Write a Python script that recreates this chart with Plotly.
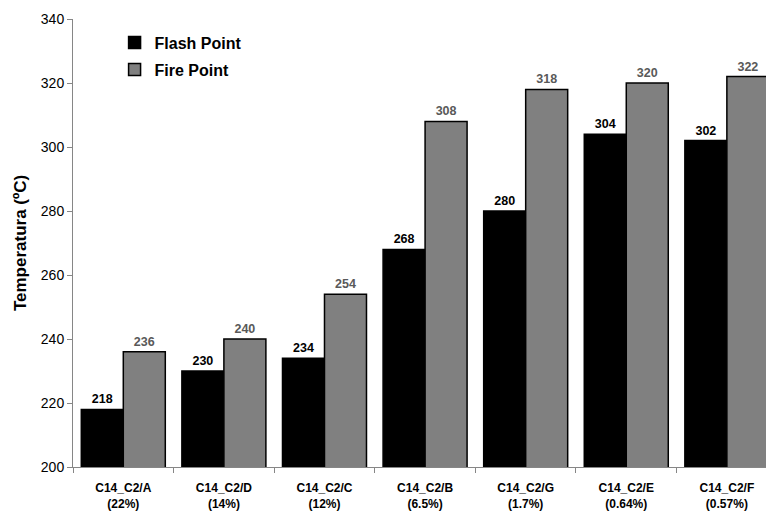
import plotly.graph_objects as go

# Samples and their share (shown under each sample name)
samples = ["C14_C2/A", "C14_C2/D", "C14_C2/C", "C14_C2/B", "C14_C2/G", "C14_C2/E", "C14_C2/F"]
shares = ["(22%)", "(14%)", "(12%)", "(6.5%)", "(1.7%)", "(0.64%)", "(0.57%)"]

# Temperatures in degrees Celsius
flash_point = [218, 230, 234, 268, 280, 304, 302]
fire_point = [236, 240, 254, 308, 318, 320, 322]

y_ticks = [200, 220, 240, 260, 280, 300, 320, 340]

FONT = "Liberation Sans, Arial, sans-serif"

tick_text = [f"<b>{s}</b><br><b>{p}</b>" for s, p in zip(samples, shares)]

fig = go.Figure()
fig.add_trace(go.Bar(
    name="<b>Flash Point</b>", x=samples, y=flash_point, legendgroup="flash",
    marker=dict(color="#000000", line=dict(color="#000000", width=1.5)),
    text=[f"<b>{v}</b>" for v in flash_point], textposition="outside",
    textfont=dict(family=FONT, size=12.5, color="#000000"),
    cliponaxis=False,
))
fig.add_trace(go.Bar(
    name="<b>Fire Point</b>", x=samples, y=fire_point, legendgroup="fire",
    marker=dict(color="#808080", line=dict(color="#000000", width=1.5)),
    text=[f"<b>{v}</b>" for v in fire_point], textposition="outside",
    textfont=dict(family=FONT, size=12.5, color="#595959"),
    cliponaxis=False,
))

fig.update_layout(
    width=766, height=511,
    margin=dict(l=73, r=0, t=19, b=44),
    paper_bgcolor="white", plot_bgcolor="white",
    barmode="group", bargap=0.165, bargroupgap=0,
    font=dict(family=FONT, size=13, color="#000000"),
    showlegend=True,
    legend=dict(
        x=0.06, y=0.985, xanchor="left", yanchor="top",
        bgcolor="rgba(0,0,0,0)", font=dict(family=FONT, size=16, color="#000000"),
        itemwidth=30, tracegroupgap=3,
    ),
)

fig.update_xaxes(
    type="category", range=[-0.5, 6.389],
    tickmode="array", tickvals=samples, ticktext=tick_text,
    tickson="boundaries", ticks="outside", ticklen=5, tickcolor="#868686",
    ticklabelstandoff=10,
    showline=True, linecolor="#868686", linewidth=1,
    showgrid=False, zeroline=False,
    tickfont=dict(family=FONT, size=12, color="#000000"),
)
fig.update_yaxes(
    range=[200, 340], tickvals=y_ticks,
    ticks="outside", ticklen=5, tickcolor="#868686",
    showline=True, linecolor="#868686", linewidth=1,
    showgrid=False, zeroline=False,
    tickfont=dict(family=FONT, size=14, color="#000000"),
    title=dict(text="<b>Temperatura (ºC)</b>", font=dict(family=FONT, size=17), standoff=9),
)

fig.write_html("out.html")
